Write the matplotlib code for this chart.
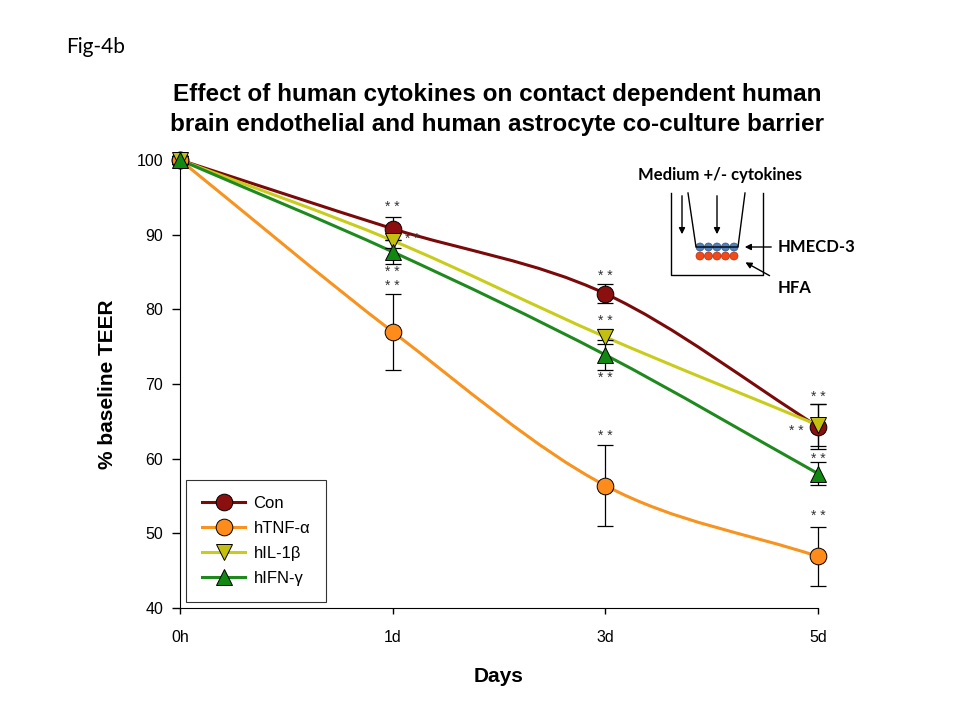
import matplotlib
matplotlib.use("Agg")
import matplotlib.pyplot as plt
import numpy as np
from matplotlib.path import Path
from matplotlib.patches import PathPatch, Circle

plt.rcParams['font.family'] = ['Liberation Sans', 'DejaVu Sans']

# data
days = ['0h', '1d', '3d', '5d']
con = [100, 90.8, 82.1, 64.3]
con_err = [0.5, 1.5, 1.3, 3.0]
tnf = [100, 77.0, 56.4, 46.9]
tnf_err = [0.5, 5.1, 5.4, 3.9]
il1b = [100, 89.2, 76.3, 64.5]
il1b_err = [0.5, 1.0, 1.0, 2.8]
ifn = [100, 87.7, 73.9, 58.0]
ifn_err = [0.5, 1.6, 2.0, 1.5]

series = [
    ('Con', con, con_err, 'o', '#7a0a0a', '#8b0f0f'),
    ('hTNF-\u03b1', tnf, tnf_err, 'o', '#f7931e', '#ff8c1a'),
    ('hIL-1\u03b2', il1b, il1b_err, 'v', '#c8cc1a', '#c4c010'),
    ('hIFN-\u03b3', ifn, ifn_err, '^', '#1e8a1e', '#118811'),
]

# significance marks: (series index, point index, dx px, dy px)
stars = [(0, 1, 0, 22), (0, 2, 0, 18), (0, 3, -22, -4),
         (1, 1, 0, 46), (1, 2, 0, 50), (1, 3, 0, 40),
         (2, 1, 20, 2), (2, 2, 0, 16), (2, 3, 0, 28),
         (3, 1, 0, -20), (3, 2, 0, -23), (3, 3, 0, 15)]


def smooth_path(x, y):
    # Catmull-Rom through the points, drawn as cubic bezier segments
    x = np.asarray(x, float)
    y = np.asarray(y, float)
    px = np.concatenate([[2 * x[0] - x[1]], x, [2 * x[-1] - x[-2]]])
    py = np.concatenate([[2 * y[0] - y[1]], y, [2 * y[-1] - y[-2]]])
    verts = [(x[0], y[0])]
    codes = [Path.MOVETO]
    for i in range(1, len(px) - 2):
        c1 = (px[i] + (px[i + 1] - px[i - 1]) / 6, py[i] + (py[i + 1] - py[i - 1]) / 6)
        c2 = (px[i + 1] - (px[i + 2] - px[i]) / 6, py[i + 1] - (py[i + 2] - py[i]) / 6)
        verts += [c1, c2, (px[i + 1], py[i + 1])]
        codes += [Path.CURVE4] * 3
    return Path(verts, codes)


fig = plt.figure(figsize=(9.6, 7.2), dpi=100)
ax = fig.add_axes([180 / 960, 1 - 608 / 720, 638 / 960, 448 / 720])
xs = np.arange(len(days))

handles = []
for name, vals, err, mk, lc, fc in series:
    ax.add_patch(PathPatch(smooth_path(xs, vals), fill=False, edgecolor=lc, lw=2.2,
                           clip_on=False, zorder=2))
    ax.errorbar(xs, vals, yerr=err, fmt='none', ecolor='black', elinewidth=0.9,
                capsize=6, capthick=0.9, zorder=3, clip_on=False)
    ax.plot(xs, vals, linestyle='none', marker=mk, markersize=12, markerfacecolor=fc,
            markeredgecolor='black', markeredgewidth=0.7, zorder=4, clip_on=False)
    h, = ax.plot([], [], color=lc, lw=2.2, marker=mk, markersize=12, markerfacecolor=fc,
                 markeredgecolor='black', markeredgewidth=0.7)
    handles.append((h, name))

for si, pi, dx, dy in stars:
    vals = series[si][1]
    ax.annotate('* *', (xs[pi], vals[pi]), xytext=(dx * 0.72, dy * 0.72),
                textcoords='offset points', ha='center', va='center',
                fontsize=10, color='#333333', zorder=5)

ax.set_xlim(0, 3)
ax.set_ylim(40, 100)
ax.set_xticks(xs)
ax.set_xticklabels(days, fontsize=11.5)
ax.set_yticks(np.arange(40, 101, 10))
ax.tick_params(axis='y', labelsize=11.5, direction='out', length=6, width=1, pad=6)
ax.tick_params(axis='x', direction='out', length=4, width=1, pad=12)
ax.spines['top'].set_visible(False)
ax.spines['right'].set_visible(False)
ax.set_xlabel('Days', fontsize=15, fontweight='bold', labelpad=16)
ax.set_ylabel('% baseline TEER', fontsize=15, fontweight='bold', labelpad=14)

leg = ax.legend([h for h, _ in handles], [n for _, n in handles], loc='lower left',
                bbox_to_anchor=(6 / 638, 6 / 448), fontsize=12, frameon=True,
                fancybox=False, edgecolor='black', handlelength=2.6, handletextpad=0.5,
                borderpad=0.95, labelspacing=0.6, borderaxespad=0)
leg.get_frame().set_linewidth(0.8)

fig.text(497 / 960, 1 - 95 / 720, 'Effect of human cytokines on contact dependent human',
         ha='center', va='center', fontsize=17.5, fontweight='bold')
fig.text(497 / 960, 1 - 124 / 720, 'brain endothelial and human astrocyte co-culture barrier',
         ha='center', va='center', fontsize=17.5, fontweight='bold')
fig.text(66 / 960, 1 - 47 / 720, 'Fig-4b', ha='left', va='center', fontsize=15,
         family=['Lato', 'DejaVu Sans'])

# inset diagram of the co-culture, drawn in pixel coordinates
ov = fig.add_axes([0, 0, 1, 1], facecolor='none')
ov.set_xlim(0, 960)
ov.set_ylim(720, 0)
ov.axis('off')
ov.plot([671, 671, 763, 763], [193, 275, 275, 193], color='black', lw=1)
ov.plot([688, 696, 738, 745], [193, 247, 247, 193], color='black', lw=1)
for cx in np.linspace(700, 734, 5):
    ov.add_patch(Circle((cx, 247), 4, facecolor='#4f81bd', edgecolor='#2d5a8e', lw=0.5))
    ov.add_patch(Circle((cx, 256), 4, facecolor='#f04a1a', edgecolor='#b03010', lw=0.5))
arrow = dict(arrowstyle='-|>', color='black', lw=1, mutation_scale=9)
ov.annotate('', xy=(682, 237), xytext=(682, 193), arrowprops=arrow)
ov.annotate('', xy=(717, 237), xytext=(717, 193), arrowprops=arrow)
ov.annotate('', xy=(742, 247), xytext=(774, 247), arrowprops=arrow)
ov.annotate('', xy=(743, 261), xytext=(772, 277), arrowprops=arrow)
calibri = ['Lato', 'DejaVu Sans']
ov.text(720, 175, 'Medium +/- cytokines', ha='center', va='center', fontsize=12,
        fontweight='bold', family=calibri)
ov.text(778, 247, 'HMECD-3', ha='left', va='center', fontsize=12, fontweight='bold',
        family=calibri)
ov.text(778, 288, 'HFA', ha='left', va='center', fontsize=12, fontweight='bold',
        family=calibri)

fig.savefig('out.png', dpi=100)
